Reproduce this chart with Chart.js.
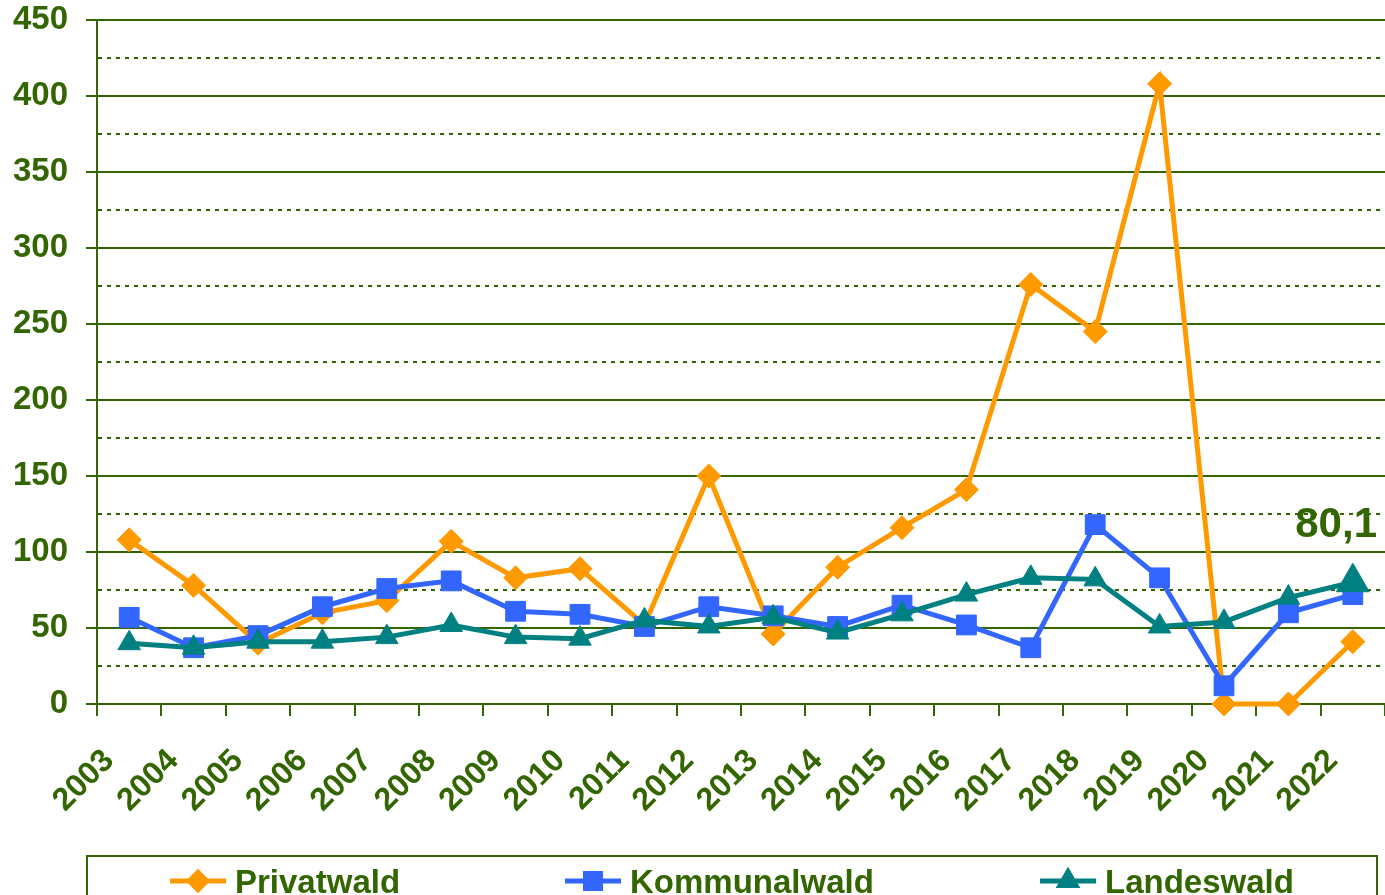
<!DOCTYPE html>
<html>
<head>
<meta charset="utf-8">
<script src="https://cdn.jsdelivr.net/npm/chart.js@4/dist/chart.umd.min.js"></script>
<style>
  html, body { margin: 0; padding: 0; background: #fff; }
  #wrap { width: 1385px; height: 895px; overflow: hidden; }
</style>
</head>
<body>
<div id="wrap"><canvas id="chart" width="1385" height="895"></canvas></div>
<script>
// Daten
const years = ['2003', '2004', '2005', '2006', '2007', '2008', '2009', '2010', '2011', '2012',
  '2013', '2014', '2015', '2016', '2017', '2018', '2019', '2020', '2021', '2022'];
const privatwald = [108, 78, 40, 60, 68, 107, 83, 89, 52, 150, 46, 90, 116, 141, 276, 245, 408, 0, 0, 41];
const kommunalwald = [57, 37, 45, 64, 76, 81, 61, 59, 51, 64, 58, 51, 65, 52, 37, 118, 83, 12, 60, 72];
const landeswald = [40, 37, 41, 41, 44, 52, 44, 43, 55, 51, 57, 47, 59, 72, 83, 82, 51, 54, 70, 80.1];
const yTicks = [0, 50, 100, 150, 200, 250, 300, 350, 400, 450];

const GREEN = '#336600';
const ORANGE = '#FF9900';
const BLUE = '#3366FF';
const TEAL = '#008080';
const FONT = '"Liberation Sans", Arial, sans-serif';

// letzter Punkt Landeswald hervorgehoben
const landesRadius = landeswald.map((v, i) => i === landeswald.length - 1 ? 19 : 13);

// Legende unten im Kasten + Wertlabel
const extras = {
  id: 'extras',
  afterDraw(chart) {
    const ctx = chart.ctx;
    const y = chart.scales.y;
    const area = chart.chartArea;
    ctx.save();
    // Wert 80,1
    const last = landeswald[landeswald.length - 1];
    ctx.fillStyle = GREEN;
    ctx.font = 'bold 42px ' + FONT;
    ctx.textAlign = 'right';
    ctx.textBaseline = 'middle';
    ctx.fillText(String(last).replace('.', ','), area.right - 8, y.getPixelForValue(last) - 57);

    // Legendenkasten
    ctx.strokeStyle = GREEN;
    ctx.lineWidth = 2;
    ctx.strokeRect(87, 856, 1290, 60);
    const items = [
      { label: 'Privatwald', color: ORANGE, style: 'rectRot', r: 12, x: 170 },
      { label: 'Kommunalwald', color: BLUE, style: 'rect', r: 14, x: 565 },
      { label: 'Landeswald', color: TEAL, style: 'triangle', r: 14, x: 1040 }
    ];
    const ly = 881;
    ctx.font = 'bold 33px ' + FONT;
    ctx.textAlign = 'left';
    ctx.textBaseline = 'alphabetic';
    items.forEach(it => {
      ctx.strokeStyle = it.color;
      ctx.lineWidth = 5;
      ctx.beginPath();
      ctx.moveTo(it.x, ly);
      ctx.lineTo(it.x + 56, ly);
      ctx.stroke();
      ctx.fillStyle = it.color;
      Chart.helpers.drawPoint(ctx, { pointStyle: it.style, radius: it.r, borderWidth: 0 }, it.x + 28, ly);
      ctx.fill();
      ctx.fillStyle = GREEN;
      ctx.fillText(it.label, it.x + 65, 893);
    });
    ctx.restore();
  }
};

new Chart(document.getElementById('chart').getContext('2d'), {
  type: 'line',
  data: {
    labels: years,
    datasets: [{
        label: 'Privatwald',
        data: privatwald,
        borderColor: ORANGE,
        backgroundColor: ORANGE,
        borderWidth: 5,
        pointStyle: 'rectRot',
        pointRadius: 12,
        pointBorderWidth: 1,
        order: 3
      },
      {
        label: 'Kommunalwald',
        data: kommunalwald,
        borderColor: BLUE,
        backgroundColor: BLUE,
        borderWidth: 5,
        pointStyle: 'rect',
        pointRadius: 14,
        pointBorderWidth: 1,
        order: 2
      },
      {
        label: 'Landeswald',
        data: landeswald,
        borderColor: TEAL,
        backgroundColor: TEAL,
        borderWidth: 5,
        pointStyle: 'triangle',
        pointRadius: landesRadius,
        pointBorderWidth: 1,
        order: 1
      }
    ]
  },
  options: {
    responsive: false,
    animation: false,
    clip: false,
    layout: { autoPadding: false, padding: { top: 20, right: 0, left: 0, bottom: 0 } },
    plugins: {
      legend: { display: false },
      tooltip: { enabled: false }
    },
    scales: {
      x: {
        offset: true,
        grid: {
          offset: true,
          drawOnChartArea: false,
          color: GREEN,
          lineWidth: 2,
          tickLength: 12
        },
        border: { color: GREEN, width: 2 },
        ticks: {
          autoSkip: false,
          minRotation: 45,
          maxRotation: 45,
          padding: 26,
          labelOffset: -20,
          color: GREEN,
          font: { family: FONT, size: 32, weight: 'bold' }
        },
        afterFit: s => {
          s.height = 191;
          s.paddingLeft = 0;
          s.paddingRight = 0;
        }
      },
      y: {
        min: 0,
        max: 450,
        ticks: {
          stepSize: 25,
          autoSkip: false,
          padding: 18,
          color: GREEN,
          font: { family: FONT, size: 33, weight: 'bold' },
          callback: v => yTicks.includes(v) ? v : ''
        },
        grid: {
          color: GREEN,
          lineWidth: 2,
          tickLength: 11,
          tickColor: c => (c.tick && !yTicks.includes(c.tick.value)) ? 'rgba(0,0,0,0)' : GREEN
        },
        border: {
          color: GREEN,
          width: 2,
          dash: c => (c.tick && !yTicks.includes(c.tick.value)) ? [4, 5] : []
        },
        afterFit: s => {
          s.width = 97;
          s.paddingTop = 0;
          s.paddingBottom = 0;
        }
      }
    }
  },
  plugins: [extras]
});
</script>
</body>
</html>
